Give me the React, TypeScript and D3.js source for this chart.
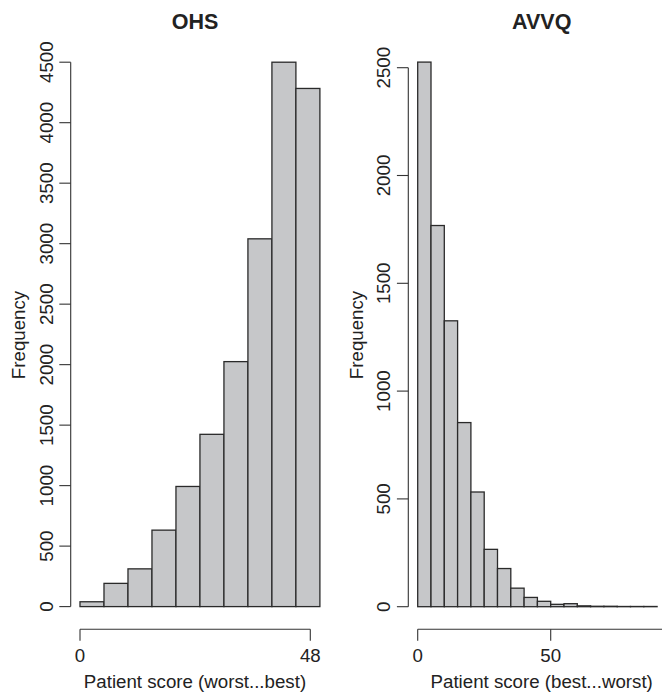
import React from 'react';
import * as d3 from 'd3';

// ---- Data ----
const binWidth = 5;
const ohsBinStarts = [0, 5, 10, 15, 20, 25, 30, 35, 40, 45];
const ohsCounts = [40, 192, 312, 632, 993, 1424, 2025, 3040, 4500, 4283];
const ohsYTicks = [0, 500, 1000, 1500, 2000, 2500, 3000, 3500, 4000, 4500];
const ohsXTicks = [0, 48];

const avvqBinStarts = [0, 5, 10, 15, 20, 25, 30, 35, 40, 45, 50, 55, 60, 65, 70, 75, 80, 85];
const avvqCounts = [2526, 1768, 1326, 854, 532, 266, 177, 86, 43, 25, 11, 14, 4, 2, 2, 1, 1, 1];
const avvqYTicks = [0, 500, 1000, 1500, 2000, 2500];
const avvqXTicks = [0, 50];

const FONT = '"Liberation Sans", Arial, Helvetica, sans-serif';
const TEXT = '#222';
const AXIS = '#333';

type PanelProps = {
  title: string;
  xLabel: string;
  starts: number[];
  counts: number[];
  yTicks: number[];
  xTicks: number[];
  x: d3.ScaleLinear<number, number>;
  y: d3.ScaleLinear<number, number>;
  axisX: number;
  xAxisY: number;
  xLineEnd: number;
  center: number;
  ylabX: number;
  ytickLabX: number;
};

function Panel(p: PanelProps) {
  const { x, y } = p;
  const tickLen = 11.4;
  const yMid = 335;
  return (
    <g>
      <text x={p.center} y={29.3} textAnchor="middle" fontFamily={FONT} fontWeight="bold" fontSize={21.5} fill={TEXT}>
        {p.title}
      </text>
      {/* bars */}
      {p.starts.map((s, i) => {
        const x0 = x(s);
        const x1 = x(s + binWidth);
        const yt = y(p.counts[i]);
        const y0 = y(0);
        return (
          <rect key={i} x={x0} y={yt} width={x1 - x0} height={Math.max(0, y0 - yt)}
            fill="#c6c7c9" stroke="#2a2a2a" strokeWidth={1.3} />
        );
      })}
      {/* y axis */}
      <line x1={p.axisX} x2={p.axisX} y1={y(p.yTicks[0])} y2={y(p.yTicks[p.yTicks.length - 1])} stroke={AXIS} strokeWidth={1.1} />
      {p.yTicks.map((t) => (
        <g key={t}>
          <line x1={p.axisX - tickLen} x2={p.axisX} y1={y(t)} y2={y(t)} stroke={AXIS} strokeWidth={1.1} />
          <text transform={`translate(${p.ytickLabX},${y(t)}) rotate(-90)`} textAnchor="middle" fontFamily={FONT} fontSize={18.7} fill={TEXT}>
            {t}
          </text>
        </g>
      ))}
      <text transform={`translate(${p.ylabX},${yMid}) rotate(-90)`} textAnchor="middle" fontFamily={FONT} fontSize={18.7} fill={TEXT}>
        Frequency
      </text>
      {/* x axis */}
      <line x1={x(p.xTicks[0])} x2={p.xLineEnd} y1={p.xAxisY} y2={p.xAxisY} stroke={AXIS} strokeWidth={1.1} />
      {p.xTicks.map((t) => (
        <g key={t}>
          <line x1={x(t)} x2={x(t)} y1={p.xAxisY} y2={p.xAxisY + tickLen} stroke={AXIS} strokeWidth={1.1} />
          <text x={x(t)} y={661.7} textAnchor="middle" fontFamily={FONT} fontSize={18.7} fill={TEXT}>
            {t}
          </text>
        </g>
      ))}
      <text x={p.center} y={688.3} textAnchor="middle" fontFamily={FONT} fontSize={18.7} fill={TEXT}>
        {p.xLabel}
      </text>
    </g>
  );
}

export default function App() {
  const ohsX = d3.scaleLinear().domain([0, 48]).range([80, 310.3]);
  const ohsY = d3.scaleLinear().domain([0, 4500]).range([606.6, 62.2]);
  const avX = d3.scaleLinear().domain([0, 50]).range([417.7, 550.7]);
  const avY = d3.scaleLinear().domain([0, 2500]).range([606.7, 67.7]);
  return (
    <div style={{ position: 'absolute', left: 0, top: 0 }}>
      <svg width={662} height={693} style={{ display: 'block', background: '#fff' }}>
        <Panel title="OHS" xLabel="Patient score (worst...best)" starts={ohsBinStarts} counts={ohsCounts}
          yTicks={ohsYTicks} xTicks={ohsXTicks} x={ohsX} y={ohsY} axisX={70.7} xAxisY={629.3}
          xLineEnd={ohsX(48)} center={195} ylabX={25} ytickLabX={52.7} />
        <Panel title="AVVQ" xLabel="Patient score (best...worst)" starts={avvqBinStarts} counts={avvqCounts}
          yTicks={avvqYTicks} xTicks={avvqXTicks} x={avX} y={avY} axisX={408.3} xAxisY={629.3}
          xLineEnd={662} center={541.7} ylabX={362.6} ytickLabX={390.3} />
      </svg>
    </div>
  );
}
